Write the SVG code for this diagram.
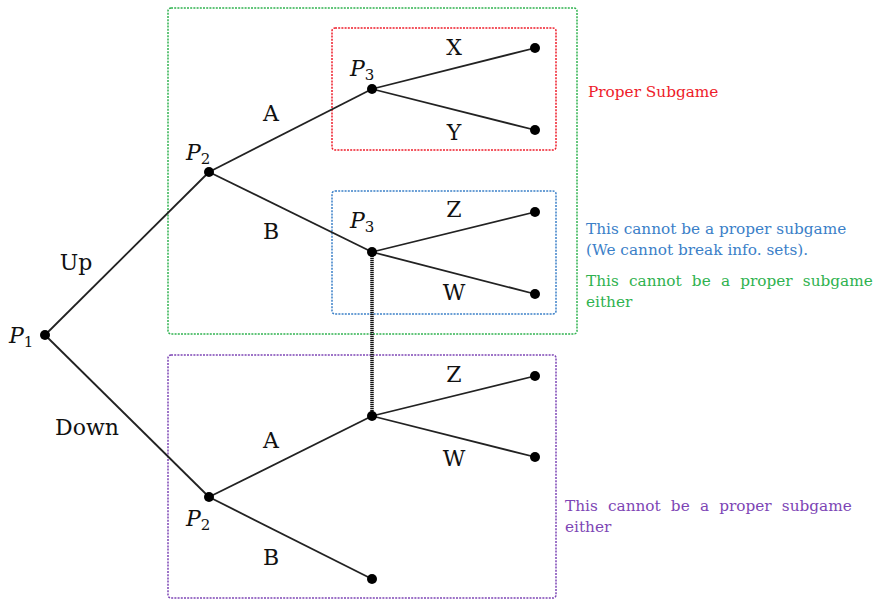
<svg xmlns="http://www.w3.org/2000/svg" width="875" height="600" viewBox="0 0 875 600">
<style>
.box{fill:none;stroke-width:1.5;stroke-dasharray:2 1.2}
.edge{stroke:#222;stroke-width:1.8;fill:none}
.dot{fill:#000}
.lbl{font-family:"DejaVu Serif","Liberation Serif",serif;font-size:22px;fill:#111;text-anchor:middle}
.pl{font-family:"DejaVu Serif","Liberation Serif",serif;font-size:22px;font-style:italic;fill:#111}
.sub{font-style:normal;font-size:15px}
.note{font-family:"DejaVu Serif","Liberation Serif",serif;font-size:15.3px}
</style>
<rect width="875" height="600" fill="#fff"/>
<g id="boxes">
<rect class="box" x="168" y="8" width="409" height="326" rx="3" stroke="#2fb24f"/>
<rect class="box" x="332" y="28" width="224" height="122" rx="3" stroke="#ee1c2a"/>
<rect class="box" x="332" y="191" width="224" height="123" rx="3" stroke="#3b80c8"/>
<rect class="box" x="168" y="355" width="388" height="243" rx="3" stroke="#7d45b5"/>
</g>
<g id="connectors">
<line class="edge" x1="45" y1="335" x2="209" y2="172"/>
<line class="edge" x1="45" y1="335" x2="209" y2="497"/>
<line class="edge" x1="209" y1="172" x2="372" y2="89"/>
<line class="edge" x1="209" y1="172" x2="372" y2="252"/>
<line class="edge" x1="372" y1="89" x2="535" y2="48"/>
<line class="edge" x1="372" y1="89" x2="535" y2="130"/>
<line class="edge" x1="372" y1="252" x2="535" y2="212"/>
<line class="edge" x1="372" y1="252" x2="535" y2="294"/>
<line class="edge" x1="209" y1="497" x2="372" y2="416"/>
<line class="edge" x1="209" y1="497" x2="372" y2="579"/>
<line class="edge" x1="372" y1="416" x2="535" y2="376"/>
<line class="edge" x1="372" y1="416" x2="535" y2="457"/>
<line x1="372" y1="252" x2="372" y2="416" stroke="#111" stroke-width="3.5" stroke-dasharray="1.2 0.8"/>
</g>
<g id="P1"><circle class="dot" cx="45" cy="335" r="5"/><text class="pl" x="9" y="343">P<tspan class="sub" dy="4">1</tspan></text></g>
<g id="P2a"><circle class="dot" cx="209" cy="172" r="5"/><text class="pl" x="186" y="160">P<tspan class="sub" dy="4">2</tspan></text></g>
<g id="P3a"><circle class="dot" cx="372" cy="89" r="5"/><text class="pl" x="350" y="76">P<tspan class="sub" dy="4">3</tspan></text></g>
<g id="P3b"><circle class="dot" cx="372" cy="252" r="5"/><text class="pl" x="350" y="228">P<tspan class="sub" dy="4">3</tspan></text></g>
<g id="P3c"><circle class="dot" cx="372" cy="416" r="5"/></g>
<g id="P2b"><circle class="dot" cx="209" cy="497" r="5"/><text class="pl" x="186" y="526">P<tspan class="sub" dy="4">2</tspan></text></g>
<g id="leaves">
<circle class="dot" cx="535" cy="48" r="5"/>
<circle class="dot" cx="535" cy="130" r="5"/>
<circle class="dot" cx="535" cy="212" r="5"/>
<circle class="dot" cx="535" cy="294" r="5"/>
<circle class="dot" cx="535" cy="376" r="5"/>
<circle class="dot" cx="535" cy="457" r="5"/>
<circle class="dot" cx="372" cy="579" r="5"/>
</g>
<g id="labels">
<text class="lbl" x="76" y="270">Up</text>
<text class="lbl" x="87" y="435">Down</text>
<text class="lbl" x="271" y="121">A</text>
<text class="lbl" x="271" y="239">B</text>
<text class="lbl" x="271" y="448">A</text>
<text class="lbl" x="271" y="565">B</text>
<text class="lbl" x="454" y="55">X</text>
<text class="lbl" x="454" y="140">Y</text>
<text class="lbl" x="454" y="217">Z</text>
<text class="lbl" x="454" y="300">W</text>
<text class="lbl" x="454" y="382">Z</text>
<text class="lbl" x="454" y="466">W</text>
</g>
<g id="notes">
<text class="note" x="588" y="97" fill="#ee1c2a">Proper Subgame</text>
<text class="note" x="586" y="234" fill="#3b80c8">This cannot be a proper subgame</text>
<text class="note" x="586" y="255" fill="#3b80c8">(We cannot break info. sets).</text>
<text class="note" x="586" y="286" fill="#2fb24f" word-spacing="5.3">This cannot be a proper subgame</text>
<text class="note" x="586" y="307" fill="#2fb24f">either</text>
<text class="note" x="565" y="511" fill="#7d45b5" word-spacing="5.3">This cannot be a proper subgame</text>
<text class="note" x="565" y="532" fill="#7d45b5">either</text>
</g>
</svg>
